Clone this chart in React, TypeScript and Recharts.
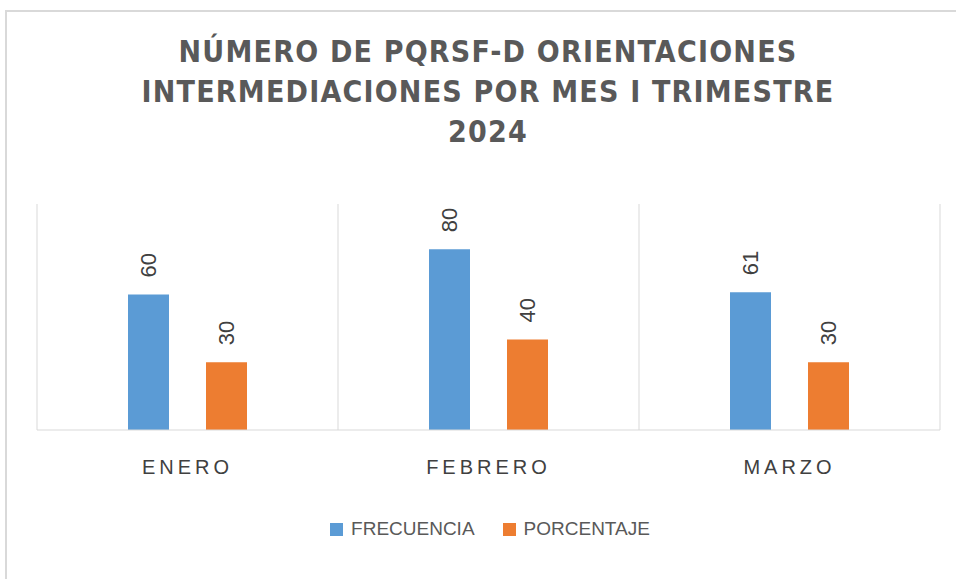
import React from "react"
import { BarChart, Bar, XAxis, YAxis, CartesianGrid, LabelList } from "recharts"

const months = ["ENERO", "FEBRERO", "MARZO"]
const frecuencia = [60, 80, 61]
const porcentaje = [30, 40, 30]
const titleLines = ["NÚMERO DE PQRSF-D ORIENTACIONES", "INTERMEDIACIONES POR MES I TRIMESTRE", "2024"]

const data = months.map((m, i) => ({ name: m, frecuencia: frecuencia[i], porcentaje: porcentaje[i] }))

const BLUE = "#5B9BD5"
const ORANGE = "#ED7D31"
const FONT = "'Liberation Sans', Arial, sans-serif"
const NARROW = "'Liberation Sans Narrow', 'DejaVu Sans Condensed', sans-serif"

// etiqueta girada -90 encima de cada barra
const RotatedLabel = (props: any) => {
  const { x, y, width, value } = props
  const cx = x + width / 2
  const cy = y - 17
  return (
    <text
      x={cx}
      y={cy}
      transform={`rotate(-90, ${cx}, ${cy})`}
      textAnchor="start"
      dominantBaseline="central"
      fill="#404040"
      fontSize={22}
      fontFamily={FONT}
    >
      {value}
    </text>
  )
}

const MonthTick = (props: any) => {
  const { x, y, payload } = props
  return (
    <text x={x} y={y + 36} textAnchor="middle" fill="#404040" fontSize={20} fontFamily={FONT} letterSpacing={4}>
      {payload.value}
    </text>
  )
}

const legendItems = [
  ["FRECUENCIA", BLUE],
  ["PORCENTAJE", ORANGE],
]

export default function App() {
  return (
    <div style={{ position: "absolute", top: 0, left: 0, width: 956, height: 579, background: "#fff", overflow: "hidden" }}>
      <div
        style={{
          position: "absolute",
          left: 5,
          top: 10,
          width: 1000,
          height: 700,
          borderTop: "2px solid #d9d9d9",
          borderLeft: "2px solid #d9d9d9",
        }}
      />
      <div
        style={{
          position: "absolute",
          top: 32,
          left: 0,
          width: 976,
          textAlign: "center",
          fontFamily: NARROW,
          fontWeight: 700,
          fontSize: 30,
          lineHeight: "40px",
          letterSpacing: 1.2,
          color: "#595959",
        }}
      >
        {titleLines.map((l) => (
          <div key={l}>{l}</div>
        ))}
      </div>
      <div style={{ position: "absolute", top: 0, left: 0 }}>
        <BarChart
          width={956}
          height={579}
          data={data}
          margin={{ top: 204, right: 16, left: 37, bottom: 119 }}
          barSize={41}
          barGap={37}
        >
          <CartesianGrid
            horizontal={false}
            stroke="#d9d9d9"
            verticalCoordinatesGenerator={({ offset }: any) =>
              [0, 1, 2, 3].map((i) => offset.left + (i * offset.width) / 3)
            }
          />
          <XAxis dataKey="name" axisLine={{ stroke: "#d9d9d9" }} tickLine={false} tick={<MonthTick />} height={30} />
          <YAxis hide domain={[0, 100]} />
          <Bar dataKey="frecuencia" fill={BLUE} isAnimationActive={false}>
            <LabelList dataKey="frecuencia" content={<RotatedLabel />} />
          </Bar>
          <Bar dataKey="porcentaje" fill={ORANGE} isAnimationActive={false}>
            <LabelList dataKey="porcentaje" content={<RotatedLabel />} />
          </Bar>
        </BarChart>
      </div>
      <div
        style={{
          position: "absolute",
          top: 518,
          left: 0,
          width: 980,
          display: "flex",
          justifyContent: "center",
          gap: 28,
          fontFamily: FONT,
          fontSize: 19,
          color: "#595959",
        }}
      >
        {legendItems.map(([label, color]) => (
          <div key={label} style={{ display: "flex", alignItems: "center" }}>
            <span style={{ width: 13, height: 13, background: color, display: "inline-block", marginRight: 8 }} />
            <span>{label}</span>
          </div>
        ))}
      </div>
    </div>
  )
}
